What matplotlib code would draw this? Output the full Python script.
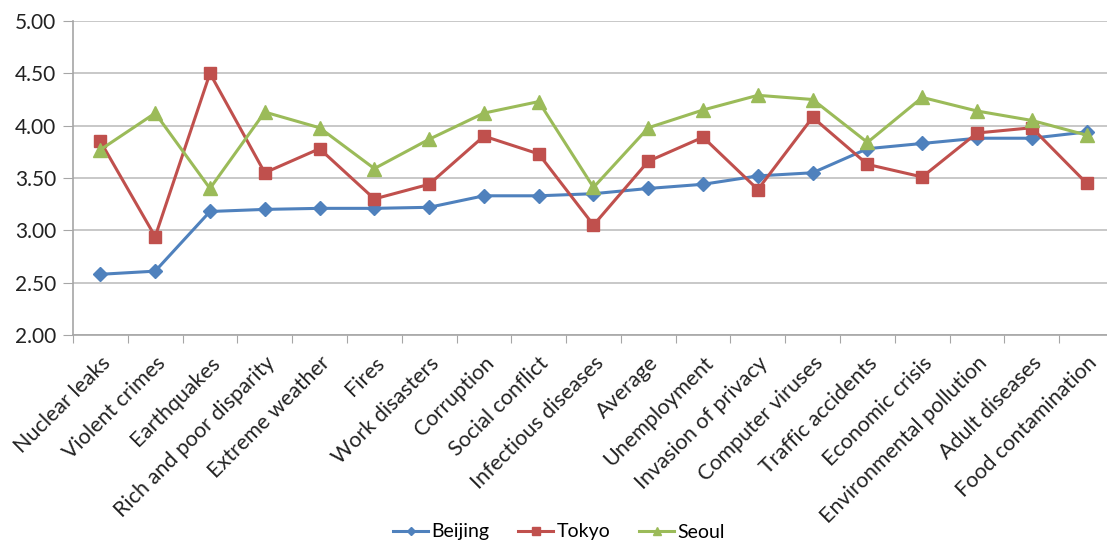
import matplotlib.pyplot as plt
import numpy as np

plt.rcParams['font.family'] = ['Lato', 'DejaVu Sans']

categories = ["Nuclear leaks", "Violent crimes", "Earthquakes", "Rich and poor disparity",
              "Extreme weather", "Fires", "Work disasters", "Corruption", "Social conflict",
              "Infectious diseases", "Average", "Unemployment", "Invasion of privacy",
              "Computer viruses", "Traffic accidents", "Economic crisis",
              "Environmental pollution", "Adult diseases", "Food contamination"]

beijing = [2.58, 2.61, 3.18, 3.20, 3.21, 3.21, 3.22, 3.33, 3.33, 3.35,
           3.40, 3.44, 3.52, 3.55, 3.78, 3.83, 3.88, 3.88, 3.94]
tokyo = [3.85, 2.94, 4.50, 3.55, 3.78, 3.30, 3.44, 3.90, 3.73, 3.05,
         3.66, 3.89, 3.39, 4.08, 3.63, 3.51, 3.93, 3.98, 3.45]
seoul = [3.77, 4.12, 3.40, 4.13, 3.98, 3.59, 3.87, 4.12, 4.23, 3.41,
         3.98, 4.15, 4.29, 4.25, 3.84, 4.27, 4.14, 4.05, 3.91]

fig = plt.figure(figsize=(11.07, 5.44), dpi=100)
ax = fig.add_axes([73/1107, 1 - 335/544, 1041/1107, (335 - 21)/544])

x = np.arange(len(categories))
ax.plot(x, beijing, color='#4F81BD', lw=2.2, marker='D', ms=7, label='Beijing')
ax.plot(x, tokyo, color='#C0504D', lw=2.2, marker='s', ms=9, label='Tokyo')
ax.plot(x, seoul, color='#9BBB59', lw=2.2, marker='^', ms=10, label='Seoul')

ax.set_xlim(-0.5, len(categories) - 0.5)
ax.set_ylim(2.0, 5.0)
yt = np.arange(2.0, 5.01, 0.5)
ax.set_yticks(yt)
ax.set_yticklabels([f"{v:.2f}" for v in yt], fontsize=15, color='#222222')
ax.yaxis.grid(True, color='#BFBFBF', lw=1.2)
ax.set_axisbelow(True)

# category labels sit between boundary ticks
ax.set_xticks(np.arange(-0.5, len(categories), 1.0))
ax.set_xticklabels([])
ax.set_xticks(x, minor=True)
ax.set_xticklabels(categories, minor=True, rotation=45, ha='right', va='top',
                   rotation_mode='anchor', fontsize=15.5, color='#222222')
ax.tick_params(axis='x', which='minor', length=0, pad=13)
ax.tick_params(axis='x', which='major', length=6, color='#A6A6A6')
ax.tick_params(axis='y', length=7, color='#A6A6A6', pad=5)

for s in ['top', 'right']:
    ax.spines[s].set_visible(False)
for s in ['left', 'bottom']:
    ax.spines[s].set_color('#A6A6A6')
    ax.spines[s].set_linewidth(1.2)

fig.legend(loc='center', bbox_to_anchor=(0.505, 1 - 532/544),
           ncol=3, frameon=False, fontsize=14, handlelength=1.8, handletextpad=0.15,
           columnspacing=1.5, markerscale=0.6)

fig.savefig('out.png', dpi=100)
